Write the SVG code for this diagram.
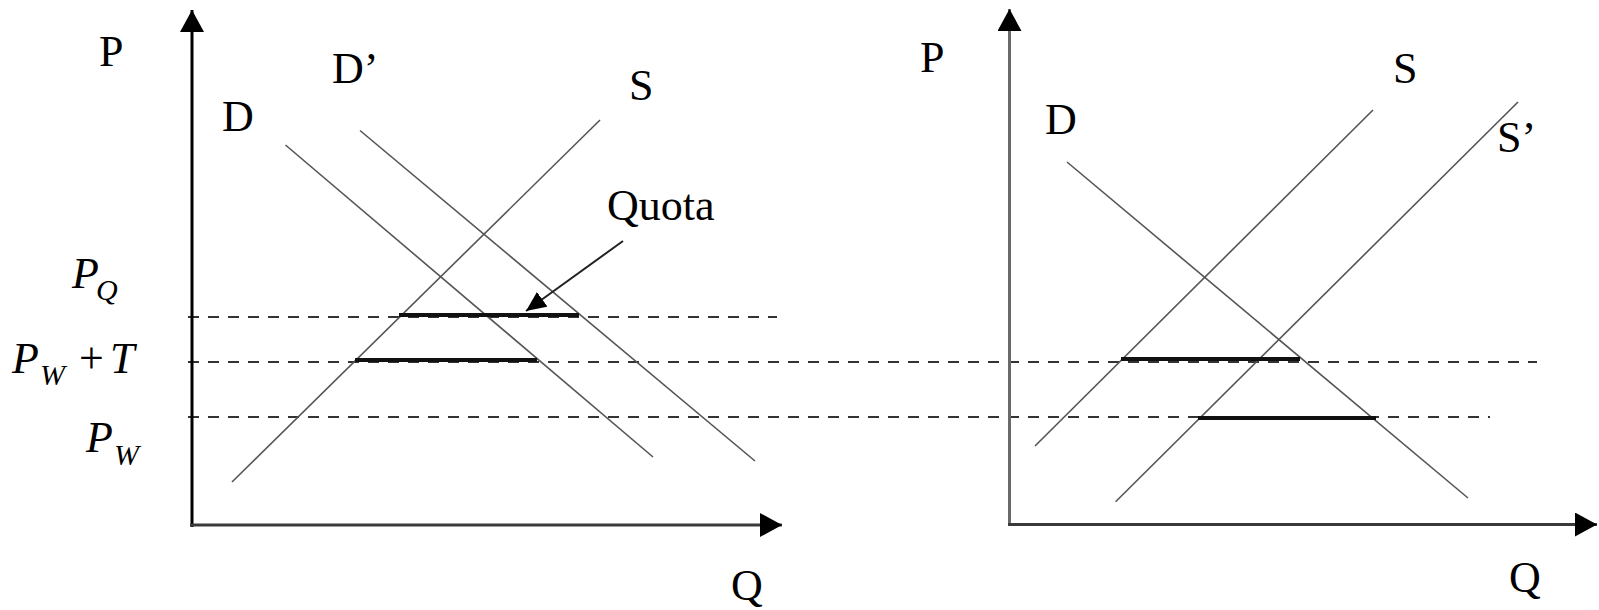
<svg xmlns="http://www.w3.org/2000/svg" width="1599" height="610" viewBox="0 0 1599 610">
  <style>
    .lbl { font-family: "Liberation Serif", "Times New Roman", serif; font-size: 44px; fill: #000; }
    .it { font-style: italic; }
    .sub { font-size: 30px; }
    .curve { stroke: #555; stroke-width: 1.6; fill: none; }
    .dash { stroke: #333; stroke-width: 2; stroke-dasharray: 11 9; fill: none; }
    .seg { stroke: #111; stroke-width: 4; fill: none; }
    .axis { stroke-width: 3; fill: none; marker-end: url(#axisHead); }
  </style>
  <defs>
    <marker id="axisHead" markerUnits="userSpaceOnUse" viewBox="0 0 22 24" refX="22" refY="12" markerWidth="22" markerHeight="24" orient="auto">
      <path d="M0,0 L22,12 L0,24 z" fill="#000"/>
    </marker>
    <marker id="quotaHead" markerUnits="userSpaceOnUse" viewBox="0 0 20 18" refX="20" refY="9" markerWidth="20" markerHeight="18" orient="auto">
      <path d="M0,0 L20,9 L0,18 z" fill="#000"/>
    </marker>
  </defs>
  <rect width="1599" height="610" fill="#fff"/>

  <g id="connectors">
    <!-- dashed price levels -->
    <line class="dash" x1="188" y1="317" x2="777" y2="317"/>
    <line class="dash" x1="188" y1="362" x2="1537" y2="362"/>
    <line class="dash" x1="188" y1="417" x2="1490" y2="417"/>

    <!-- left chart curves -->
    <line class="curve" x1="232" y1="482" x2="600" y2="120"/>
    <line class="curve" x1="285.5" y1="145" x2="653" y2="457"/>
    <line class="curve" x1="360" y1="130.5" x2="755" y2="461"/>

    <!-- right chart curves -->
    <line class="curve" x1="1067" y1="162" x2="1468" y2="498"/>
    <line class="curve" x1="1035" y1="446" x2="1373" y2="110"/>
    <line class="curve" x1="1115.6" y1="501.7" x2="1518" y2="102"/>

    <!-- thick segments -->
    <line class="seg" x1="399" y1="315" x2="579" y2="315"/>
    <line class="seg" x1="355" y1="360" x2="537" y2="360"/>
    <line class="seg" x1="1121" y1="359" x2="1300" y2="359"/>
    <line class="seg" x1="1198" y1="418" x2="1376" y2="418"/>

    <!-- quota pointer -->
    <line x1="623" y1="241" x2="526" y2="311" stroke="#222" stroke-width="2" marker-end="url(#quotaHead)"/>

    <!-- axes -->
    <line class="axis" stroke="#000" x1="192" y1="527" x2="192" y2="10"/>
    <line class="axis" stroke="#3a3a3a" x1="190" y1="525" x2="782" y2="525"/>
    <line class="axis" stroke="#6a6a6a" x1="1009.5" y1="526" x2="1009.5" y2="9"/>
    <line class="axis" stroke="#3a3a3a" x1="1008" y1="524.5" x2="1597" y2="524.5"/>
  </g>

  <g id="left-labels">
    <text class="lbl" x="99" y="66">P</text>
    <text class="lbl" x="222" y="131">D</text>
    <text class="lbl" x="332" y="83">D’</text>
    <text class="lbl" x="629" y="100">S</text>
    <text class="lbl" x="607" y="220">Quota</text>
    <text class="lbl" x="731" y="600">Q</text>
  </g>

  <g id="price-labels">
    <g id="label-PQ">
      <text class="lbl it" x="72" y="288">P</text>
      <text class="lbl it sub" x="96" y="300">Q</text>
    </g>
    <g id="label-PWT">
      <text class="lbl it" x="12" y="373">P</text>
      <text class="lbl it sub" x="40" y="385">W</text>
      <text class="lbl" x="79" y="373">+</text>
      <text class="lbl it" x="110" y="373">T</text>
    </g>
    <g id="label-PW">
      <text class="lbl it" x="86" y="452">P</text>
      <text class="lbl it sub" x="114" y="465">W</text>
    </g>
  </g>

  <g id="right-labels">
    <text class="lbl" x="920" y="72">P</text>
    <text class="lbl" x="1045" y="134">D</text>
    <text class="lbl" x="1393" y="83">S</text>
    <text class="lbl" x="1497" y="152">S’</text>
    <text class="lbl" x="1509" y="592">Q</text>
  </g>
</svg>
